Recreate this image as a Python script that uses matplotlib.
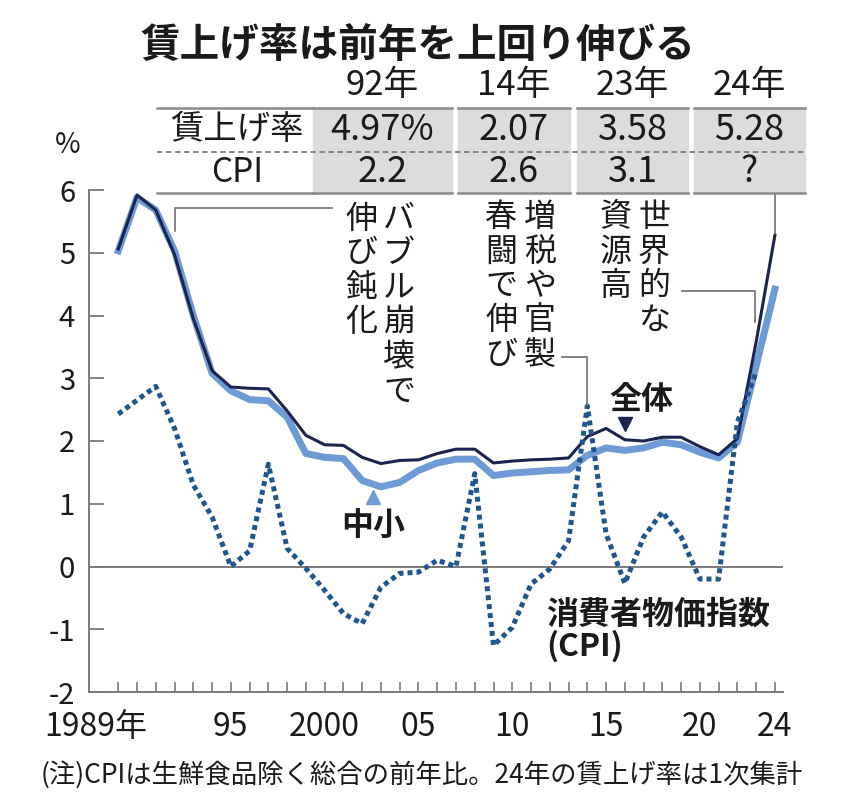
import matplotlib
matplotlib.use("Agg")
import matplotlib.pyplot as plt
from matplotlib.patches import Rectangle
from matplotlib.lines import Line2D

plt.rcParams['font.family'] = ['Noto Sans CJK JP', 'DejaVu Sans']
plt.rcParams['axes.unicode_minus'] = False

# 賃上げ率(全体・中小)とCPIの推移
years = list(range(1989, 2025))
zentai = [5.06, 5.92, 5.68, 4.97, 3.95, 3.12, 2.86, 2.84, 2.83, 2.48, 2.09, 1.94,
          1.93, 1.74, 1.64, 1.69, 1.70, 1.80, 1.87, 1.87, 1.65, 1.68, 1.70, 1.71,
          1.73, 2.07, 2.20, 2.02, 2.00, 2.06, 2.06, 1.91, 1.78, 2.04, 3.58, 5.28]
chusho = [5.03, 5.88, 5.68, 5.03, 4.00, 3.08, 2.80, 2.66, 2.64, 2.38, 1.80, 1.74,
          1.72, 1.37, 1.27, 1.34, 1.53, 1.65, 1.71, 1.71, 1.45, 1.49, 1.51, 1.53,
          1.54, 1.77, 1.89, 1.85, 1.89, 1.98, 1.94, 1.82, 1.73, 1.98, 3.20, 4.42]
cpi_years = list(range(1989, 2024))
cpi = [2.43, 2.65, 2.87, 2.20, 1.30, 0.79, 0.0, 0.25, 1.63, 0.29, -0.03, -0.38,
       -0.75, -0.91, -0.33, -0.11, -0.09, 0.10, 0.0, 1.48, -1.26, -0.97, -0.28, -0.04,
       0.41, 2.56, 0.52, -0.27, 0.47, 0.87, 0.47, -0.20, -0.20, 2.30, 3.10]

# 上の表
tbl_years = ['92年', '14年', '23年', '24年']
tbl_wage = ['4.97%', '2.07', '3.58', '5.28']
tbl_cpi = ['2.2', '2.6', '3.1', '?']

xtick_pos = [1989, 1995, 2000, 2005, 2010, 2015, 2020, 2024]
xtick_lab = ['1989年', '95', '2000', '05', '10', '15', '20', '24']

W, H = 859, 798
TXT = '#1a1a1a'
GRAY = '#7a7a7a'
NAVY = '#1b2450'
LIGHT = '#6d9bd6'
DOT = '#1f5590'
NARROW = ['Liberation Sans Narrow', 'Noto Sans CJK JP']


def px(x, y):
    return x / W, 1 - y / H


fig = plt.figure(figsize=(W / 100, H / 100), dpi=100)
ax = fig.add_axes([89 / W, 1 - 692 / H, (783 - 89) / W, (692 - 190) / H])
ax.set_xlim(1987.44, 2024.43)
ax.set_ylim(-2, 6)

ax.plot(years, chusho, color=LIGHT, lw=5.0, solid_joinstyle='round', zorder=2)
ax.plot(years, zentai, color=NAVY, lw=2.2, zorder=3)
ax.plot(cpi_years, cpi, color=DOT, lw=3.6, linestyle=(0, (1.0, 0.8)),
        dash_capstyle='butt', zorder=4)
ax.axhline(0, color=GRAY, lw=1.4, zorder=1)

for s in ['top', 'right']:
    ax.spines[s].set_visible(False)
for s in ['left', 'bottom']:
    ax.spines[s].set_color(GRAY)
    ax.spines[s].set_linewidth(1.4)

ax.set_yticks(range(-2, 7))
ax.set_yticklabels([str(v) for v in range(-2, 7)], fontsize=21, color=TXT, family=NARROW)
ax.tick_params(axis='y', direction='in', length=11, width=1.3, color=GRAY, pad=10)
ax.set_xticks(years)
ax.set_xticklabels([])
ax.tick_params(axis='x', direction='in', length=7, width=1.2, color=GRAY)

for x, lab in zip(xtick_pos, xtick_lab):
    xx = x - 1.19 if lab.endswith('年') else x
    ax.text(xx, -(727 - 692) / 502, lab, transform=ax.get_xaxis_transform(), ha='center',
            va='center', fontsize=23, color=TXT, family=NARROW)

fig.text(*px(68, 145), '%', ha='center', va='center', fontsize=20, color=TXT, family=NARROW)

# タイトル
fig.text(*px(418, 45), '賃上げ率は前年を上回り伸びる', ha='center', va='center',
         fontsize=28.5, fontweight='bold', color=TXT)

# 表
cells = [(313, 452), (458, 570), (577, 688), (694, 805)]
for (x0, x1) in cells:
    fig.patches.append(Rectangle(px(x0, 193), (x1 - x0) / W, 85 / H,
                                 transform=fig.transFigure, color='#dcdcdc', zorder=0))
    for yy in (108, 193):
        fig.add_artist(Line2D([x0 / W, x1 / W], [1 - yy / H] * 2, color='#8a8a8a', lw=1.8))
for yy in (108, 193):
    fig.add_artist(Line2D([157 / W, 313 / W], [1 - yy / H] * 2, color='#8a8a8a', lw=1.8))
fig.add_artist(Line2D([157 / W, 805 / W], [1 - 152 / H] * 2, color='#7a7a7a', lw=1.3,
                      linestyle=(0, (3, 2))))
fig.text(*px(237, 130), '賃上げ率', ha='center', va='center', fontsize=24, color=TXT)
fig.text(*px(237, 172), 'CPI', ha='center', va='center', fontsize=24, color=TXT)
for (x0, x1), yl, wg, cp in zip(cells, tbl_years, tbl_wage, tbl_cpi):
    xc = (x0 + x1) / 2
    fig.text(*px(xc, 85), yl, ha='center', va='center', fontsize=25, color=TXT)
    fig.text(*px(xc, 130), wg, ha='center', va='center', fontsize=26, color=TXT)
    fig.text(*px(xc, 172), cp, ha='center', va='center', fontsize=26, color=TXT)


# 縦書きの注釈
def vtext(x, y0, s, pitch=34.5):
    for i, ch in enumerate(s):
        fig.text(*px(x, y0 + i * pitch), ch, ha='center', va='center', fontsize=23, color=TXT)


vtext(399, 219, 'バブル崩壊で')
vtext(361, 219, '伸び鈍化')
vtext(540, 217, '増税や官製')
vtext(501, 217, '春闘で伸び')
vtext(654, 217, '世界的な')
vtext(616, 217, '資源高')

lk = dict(color=GRAY, lw=1.3, clip_on=False, zorder=5)
ax.plot([1992, 1992, 2000.4], [5.35, 5.71, 5.71], **lk)
ax.plot([2012.65, 2014, 2014], [3.34, 3.34, cpi[cpi_years.index(2014)] + 0.02], **lk)
ax.plot([2019.05, 2022.95, 2022.95], [4.39, 4.39, 3.9], **lk)
ax.plot([2024, 2024], [5.95, zentai[-1] + 0.03], **lk)

# 系列ラベル
ax.plot(2016, 2.27, marker='v', ms=10, color=NAVY, zorder=6)
ax.text(2016.9, 2.65, '全体', ha='center', va='center', fontsize=23, fontweight='bold', color=TXT)
ax.plot(2002.57, 1.1, marker='^', ms=10, color=LIGHT, zorder=6)
ax.text(2002.57, 0.63, '中小', ha='center', va='center', fontsize=23, fontweight='bold', color=TXT)
ax.text(2011.8, -0.77, '消費者物価指数', ha='left', va='center', fontsize=23,
        fontweight='bold', color=TXT)
ax.text(2011.8, -1.28, '(CPI)', ha='left', va='center', fontsize=23,
        fontweight='bold', color=TXT)

fig.text(*px(422, 775), '(注)CPIは生鮮食品除く総合の前年比。24年の賃上げ率は1次集計',
         ha='center', va='center', fontsize=19, color=TXT)

fig.savefig('out.png', dpi=100, facecolor='white')
